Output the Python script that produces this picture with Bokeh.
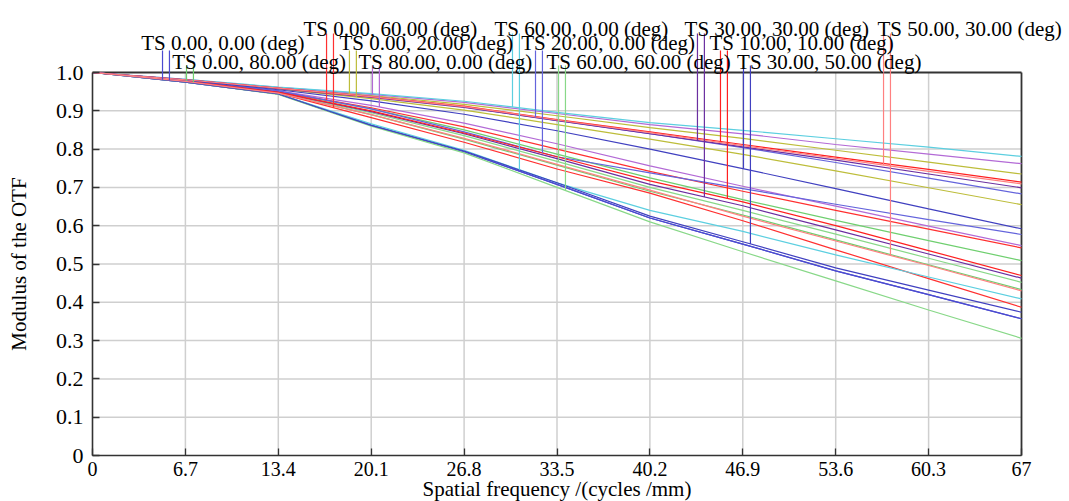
import numpy as np
from bokeh.plotting import figure
from bokeh.models import Range1d, FixedTicker, ColumnDataSource
from bokeh.core.properties import value
from bokeh.embed import file_html
from bokeh.resources import INLINE

# ---------------- data ----------------
FREQ = [0, 6.7, 13.4, 20.1, 26.8, 33.5, 40.2, 46.9, 53.6, 60.3, 67]

X_TICKS = [0, 6.7, 13.4, 20.1, 26.8, 33.5, 40.2, 46.9, 53.6, 60.3, 67]
X_LABELS = ["0", "6.7", "13.4", "20.1", "26.8", "33.5", "40.2", "46.9", "53.6", "60.3", "67"]
Y_TICKS = [0, 0.1, 0.2, 0.3, 0.4, 0.5, 0.6, 0.7, 0.8, 0.9, 1.0]
Y_LABELS = ["0", "0.1", "0.2", "0.3", "0.4", "0.5", "0.6", "0.7", "0.8", "0.9", "1.0"]

FIELDS = ["0.00, 0.00", "0.00, 80.00", "0.00, 60.00", "0.00, 20.00",
          "80.00, 0.00", "60.00, 0.00", "20.00, 0.00", "60.00, 60.00",
          "30.00, 30.00", "10.00, 10.00", "30.00, 50.00", "50.00, 30.00"]

# tangential (T) and sagittal (S) MTF per field, at FREQ
T_0_0   = [1, .975, .944, .862, .793, .708, .620, .552, .482, .420, .357]
S_0_0   = [1, .975, .944, .862, .793, .708, .620, .552, .482, .420, .357]
T_0_80  = [1, .978, .950, .905, .850, .787, .725, .668, .614, .561, .509]
S_0_80  = [1, .977, .946, .890, .826, .758, .690, .628, .563, .498, .433]
T_0_60  = [1, .978, .950, .908, .858, .800, .742, .690, .640, .591, .542]
S_0_60  = [1, .977, .946, .882, .818, .748, .685, .613, .537, .462, .387]
T_0_20  = [1, .981, .960, .940, .917, .887, .856, .828, .797, .766, .735]
S_0_20  = [1, .980, .957, .932, .902, .864, .826, .786, .743, .699, .655]
T_80_0  = [1, .982, .961, .943, .922, .893, .864, .840, .812, .787, .762]
S_80_0  = [1, .979, .952, .914, .868, .814, .756, .703, .651, .599, .548]
T_60_0  = [1, .982, .962, .945, .925, .896, .869, .849, .827, .805, .781]
S_60_0  = [1, .976, .944, .866, .797, .712, .640, .585, .524, .466, .409]
T_20_0  = [1, .981, .959, .938, .910, .875, .840, .804, .765, .724, .683]
S_20_0  = [1, .979, .952, .905, .845, .780, .738, .697, .656, .616, .577]
T_60_60 = [1, .978, .947, .895, .835, .768, .700, .640, .578, .515, .452]
S_60_60 = [1, .975, .943, .860, .790, .700, .610, .532, .456, .380, .306]
T_30_30 = [1, .981, .958, .935, .909, .874, .840, .806, .771, .735, .699]
S_30_30 = [1, .978, .948, .898, .840, .775, .708, .652, .589, .526, .463]
T_10_10 = [1, .981, .959, .937, .912, .877, .845, .812, .779, .747, .714]
S_10_10 = [1, .978, .948, .900, .842, .780, .717, .662, .600, .535, .470]
T_30_50 = [1, .980, .955, .926, .891, .848, .800, .749, .697, .644, .592]
S_30_50 = [1, .975, .944, .862, .795, .712, .625, .558, .490, .432, .374]
T_50_30 = [1, .981, .959, .937, .911, .876, .843, .809, .776, .742, .709]
S_50_30 = [1, .977, .946, .890, .828, .760, .693, .625, .560, .496, .430]

T_CURVES = [T_0_0, T_0_80, T_0_60, T_0_20, T_80_0, T_60_0, T_20_0, T_60_60, T_30_30, T_10_10, T_30_50, T_50_30]
S_CURVES = [S_0_0, S_0_80, S_0_60, S_0_20, S_80_0, S_60_0, S_20_0, S_60_60, S_30_30, S_10_10, S_30_50, S_50_30]

# frequency at which each field's label marker sits
LABEL_F = [5.05, 6.78, 16.88, 18.53, 20.19, 30.29, 31.95, 33.61, 43.63, 45.29, 46.95, 57.05]

# ---------------- style / layout ----------------
COLORS = ["#4b4bd0", "#6fcf6f", "#ff3030", "#bdbd3a", "#b36ad6", "#5ccfe0",
          "#6464dc", "#88d888", "#6b2fa0", "#ff2020", "#4040c0", "#ff8080"]
LABEL_X = [3.51, 5.75, 15.22, 17.81, 19.18, 28.99, 30.92, 32.74, 42.70, 44.50, 46.49, 56.61]
LABEL_ROW = [1, 2, 0, 1, 2, 0, 1, 2, 0, 1, 2, 0]
S_OFFSET = 0.5

W, H = 1069, 501
FRAME_L, FRAME_R = 92.0, 1021.0      # canvas px of x = 0 and x = 67
Y0_PX, Y1_PX = 455.0, 72.0           # canvas px of y = 0 and y = 1
PXX = (FRAME_R - FRAME_L) / (X_TICKS[-1] - X_TICKS[0])
PXY = Y0_PX - Y1_PX


def pv(py):
    return (Y0_PX - py) / PXY


def fx(px):
    return (px - FRAME_L) / PXX


ROW_BASE = [pv(28.3), pv(42.0), pv(61.0)]
ROW_TOP = [pv(33.0), pv(50.0), pv(65.0)]
FONT = "Liberation Serif"
GRID = "#cfcfcf"
AXIS = "#333333"

p = figure(width=W, height=H, output_backend="svg", toolbar_location=None,
           x_range=Range1d(fx(0), fx(W)), y_range=Range1d(pv(H), pv(0)),
           min_border_left=0, min_border_right=0, min_border_top=0, min_border_bottom=0)
p.outline_line_color = None
p.background_fill_color = "white"
p.xgrid.visible = False
p.ygrid.visible = False

x0, x1 = X_TICKS[0], X_TICKS[-1]
y0, y1 = Y_TICKS[0], Y_TICKS[-1]

# grid lines, limited to the data box
p.segment(x0=X_TICKS[1:-1], y0=[y0] * (len(X_TICKS) - 2),
          x1=X_TICKS[1:-1], y1=[y1] * (len(X_TICKS) - 2),
          line_color=GRID, line_width=1.5)
p.segment(x0=[x0] * (len(Y_TICKS) - 2), y0=Y_TICKS[1:-1],
          x1=[x1] * (len(Y_TICKS) - 2), y1=Y_TICKS[1:-1],
          line_color=GRID, line_width=1.5)

# frame top and right borders
p.segment(x0=[x0, x1], y0=[y1, y0], x1=[x1, x1], y1=[y1, y1],
          line_color=AXIS, line_width=1.8)

# axes drawn at the data origin
for ax in (p.xaxis[0], p.yaxis[0]):
    ax.fixed_location = 0
    ax.axis_line_color = AXIS
    ax.axis_line_width = 1.6
    ax.major_tick_line_color = AXIS
    ax.major_tick_line_width = 1.3
    ax.major_tick_in = 7
    ax.major_tick_out = 0
    ax.minor_tick_line_color = None
    ax.major_label_text_font = FONT
    ax.major_label_text_color = "black"
    ax.axis_label_text_font = FONT
    ax.axis_label_text_font_size = "21px"
    ax.axis_label_text_font_style = "normal"
    ax.axis_label_text_color = "black"

xa = p.xaxis[0]
xa.bounds = (x0, x1)
xa.ticker = FixedTicker(ticks=X_TICKS)
xa.major_label_overrides = {t: l for t, l in zip(X_TICKS, X_LABELS)}
xa.major_label_text_font_size = "20px"
xa.major_label_standoff = 6
xa.axis_label = "Spatial frequency /(cycles /mm)"
xa.axis_label_standoff = -2

ya = p.yaxis[0]
ya.bounds = (y0, y1)
ya.ticker = FixedTicker(ticks=Y_TICKS)
ya.major_label_overrides = {t: l for t, l in zip(Y_TICKS, Y_LABELS)}
ya.major_label_text_font_size = "22px"
ya.major_label_standoff = 9
ya.axis_label = "Modulus of the OTF"
ya.axis_label_standoff = 22

# curves
for tc, sc, col in zip(T_CURVES, S_CURVES, COLORS):
    p.line(FREQ, sc, line_color=col, line_width=1.2)
    p.line(FREQ, tc, line_color=col, line_width=1.2)

# label marker lines
mx, my0, my1, mcol = [], [], [], []
for i in range(len(FIELDS)):
    for k, arr in enumerate((T_CURVES[i], S_CURVES[i])):
        f = LABEL_F[i] + k * S_OFFSET
        mx.append(f)
        my0.append(ROW_TOP[LABEL_ROW[i]])
        my1.append(float(np.interp(f, FREQ, arr)))
        mcol.append(COLORS[i])
p.segment(x0=mx, y0=my0, x1=mx, y1=my1, line_color=mcol, line_width=1.2)

# labels
src = ColumnDataSource(dict(x=LABEL_X, y=[ROW_BASE[r] for r in LABEL_ROW],
                            t=["TS " + f + " (deg)" for f in FIELDS]))
p.text(x="x", y="y", text="t", source=src, text_font=value(FONT),
       text_font_size="21px", text_color="black", text_baseline="alphabetic",
       text_align="left")

open("out.html", "w").write(file_html(p, INLINE))
